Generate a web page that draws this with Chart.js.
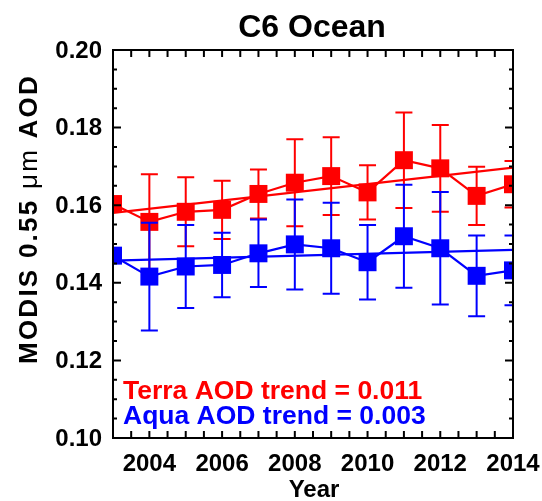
<!DOCTYPE html>
<html>
<head>
<meta charset="utf-8">
<script src="https://cdn.jsdelivr.net/npm/chart.js@4"></script>
<style>
  html, body { margin: 0; padding: 0; background: #fff; }
</style>
</head>
<body>
<canvas id="aodChart" width="542" height="501"></canvas>
<script>
// values
const years = [2003, 2004, 2005, 2006, 2007, 2008, 2009, 2010, 2011, 2012, 2013, 2014];
const terraAod = [0.1603, 0.1557, 0.1583, 0.1588, 0.1629, 0.1658, 0.1675, 0.1633, 0.1716, 0.1695, 0.1624, 0.1654];
const terraErr = [null, 0.0123, 0.0089, 0.0075, 0.0063, 0.0112, 0.0100, 0.0070, 0.0123, 0.0112, 0.0075, 0.0060];
const aquaAod = [0.1470, 0.1416, 0.1442, 0.1446, 0.1476, 0.1499, 0.1489, 0.1453, 0.1520, 0.1489, 0.1418, 0.1432];
const aquaErr = [null, 0.0139, 0.0107, 0.0083, 0.0087, 0.0116, 0.0117, 0.0096, 0.0133, 0.0145, 0.0104, 0.0090];
const trendYears = [2003, 2014];
const terraTrend = [0.1580, 0.1697];
const aquaTrend = [0.1457, 0.1485];
const xTicks = [2004, 2006, 2008, 2010, 2012, 2014];
const yTicks = [0.10, 0.12, 0.14, 0.16, 0.18, 0.20];
const titleText = 'C6 Ocean';
const xTitle = 'Year';
const yTitleParts = ['MODIS 0.55 ', '\u03bcm', ' AOD'];
const trendNotes = ['Terra AOD trend = 0.011', 'Aqua AOD trend = 0.003'];

const RED = '#ff0000';
const BLUE = '#0000ff';
const FONT = '"Liberation Sans", Arial, Helvetica, sans-serif';

function pts(xs, ys) {
    return xs.map((x, i) => ({ x: x, y: ys[i] }));
}

// error bars + frame / ticks / text
const idlStyle = {
    id: 'idlStyle',
    afterDatasetDraw(chart, args) {
        const ds = chart.data.datasets[args.index];
        if (!ds.errors) return;
        const { ctx, chartArea: a } = chart;
        const x = chart.scales.x, y = chart.scales.y;
        ctx.save();
        ctx.beginPath();
        ctx.rect(a.left, a.top, a.right - a.left, a.bottom - a.top);
        ctx.clip();
        ctx.strokeStyle = ds.borderColor;
        ctx.lineWidth = 2;
        ds.data.forEach((p, i) => {
            const e = ds.errors[i];
            if (e == null) return;
            const px = x.getPixelForValue(p.x);
            const top = y.getPixelForValue(p.y + e);
            const bot = y.getPixelForValue(p.y - e);
            ctx.beginPath();
            ctx.moveTo(px, top); ctx.lineTo(px, bot);
            ctx.moveTo(px - 8.5, top); ctx.lineTo(px + 8.5, top);
            ctx.moveTo(px - 8.5, bot); ctx.lineTo(px + 8.5, bot);
            ctx.stroke();
        });
        ctx.restore();
    },
    afterDraw(chart) {
        const { ctx, chartArea: a } = chart;
        const x = chart.scales.x, y = chart.scales.y;
        ctx.save();
        ctx.strokeStyle = '#000';
        ctx.lineWidth = 2;
        ctx.strokeRect(a.left, a.top, a.right - a.left, a.bottom - a.top);

        // inward ticks
        ctx.beginPath();
        for (let v = x.min + 0.5; v < x.max; v += 0.5) {
            const px = x.getPixelForValue(v);
            ctx.moveTo(px, a.bottom); ctx.lineTo(px, a.bottom - 7);
            ctx.moveTo(px, a.top); ctx.lineTo(px, a.top + 7);
        }
        for (let k = 1; k < 20; k++) {
            const v = y.min + k * 0.005;
            const py = y.getPixelForValue(v);
            const len = (k % 4 === 0) ? 8 : 4;
            ctx.moveTo(a.left, py); ctx.lineTo(a.left + len, py);
            ctx.moveTo(a.right, py); ctx.lineTo(a.right - len, py);
        }
        ctx.stroke();

        ctx.fillStyle = '#000';
        // tick labels
        ctx.font = 'bold 24px ' + FONT;
        ctx.textAlign = 'center';
        ctx.textBaseline = 'alphabetic';
        xTicks.forEach(t => ctx.fillText(String(t), x.getPixelForValue(t), 471));
        ctx.textAlign = 'right';
        ctx.textBaseline = 'middle';
        yTicks.forEach(t => ctx.fillText(t.toFixed(2), 102, y.getPixelForValue(t) + 1));

        // titles
        ctx.textAlign = 'center';
        ctx.textBaseline = 'alphabetic';
        ctx.font = 'bold 32px ' + FONT;
        ctx.fillText(titleText, 312, 37);
        ctx.font = 'bold 24px ' + FONT;
        ctx.fillText(xTitle, 314, 497);

        // y title, bold except the micro sign part
        ctx.save();
        ctx.translate(37, 219);
        ctx.rotate(-Math.PI / 2);
        ctx.textAlign = 'left';
        const fonts = ['bold 26px ' + FONT, '26px ' + FONT, 'bold 26px ' + FONT];
        let natural = 0, chars = 0;
        yTitleParts.forEach((s, i) => {
            ctx.font = fonts[i];
            natural += ctx.measureText(s).width;
            chars += s.length;
        });
        const spacing = Math.max(0, (290 - natural) / chars);
        let cx = -(natural + spacing * chars) / 2;
        yTitleParts.forEach((s, i) => {
            ctx.font = fonts[i];
            for (const ch of s) {
                ctx.fillText(ch, cx, 0);
                cx += ctx.measureText(ch).width + spacing;
            }
        });
        ctx.restore();

        // trend notes
        ctx.textAlign = 'left';
        ctx.font = 'bold 26.5px ' + FONT;
        ctx.fillStyle = RED;
        ctx.fillText(trendNotes[0], 123, 399);
        ctx.fillStyle = BLUE;
        ctx.fillText(trendNotes[1], 123, 424);
        ctx.restore();
    }
};

new Chart(document.getElementById('aodChart'), {
    type: 'line',
    data: {
        datasets: [
            {
                label: 'Aqua',
                data: pts(years, aquaAod),
                errors: aquaErr,
                borderColor: BLUE,
                backgroundColor: BLUE,
                borderWidth: 2.2,
                pointStyle: 'rect',
                pointRadius: 12.7,
                pointBorderWidth: 0,
                clip: 0,
                order: 0
            },
            {
                label: 'Aqua trend',
                data: pts(trendYears, aquaTrend),
                borderColor: BLUE,
                borderWidth: 2.2,
                pointRadius: 0,
                clip: 0,
                order: 1
            },
            {
                label: 'Terra',
                data: pts(years, terraAod),
                errors: terraErr,
                borderColor: RED,
                backgroundColor: RED,
                borderWidth: 2.2,
                pointStyle: 'rect',
                pointRadius: 12.7,
                pointBorderWidth: 0,
                clip: 0,
                order: 2
            },
            {
                label: 'Terra trend',
                data: pts(trendYears, terraTrend),
                borderColor: RED,
                borderWidth: 2.2,
                pointRadius: 0,
                clip: 0,
                order: 3
            }
        ]
    },
    options: {
        responsive: false,
        animation: false,
        events: [],
        layout: { padding: { left: 113, right: 29, top: 50, bottom: 63 } },
        scales: {
            x: { type: 'linear', min: 2003, max: 2014, display: false },
            y: { type: 'linear', min: 0.10, max: 0.20, display: false }
        },
        plugins: {
            legend: { display: false },
            title: { display: false },
            tooltip: { enabled: false }
        }
    },
    plugins: [idlStyle]
});
</script>
</body>
</html>
